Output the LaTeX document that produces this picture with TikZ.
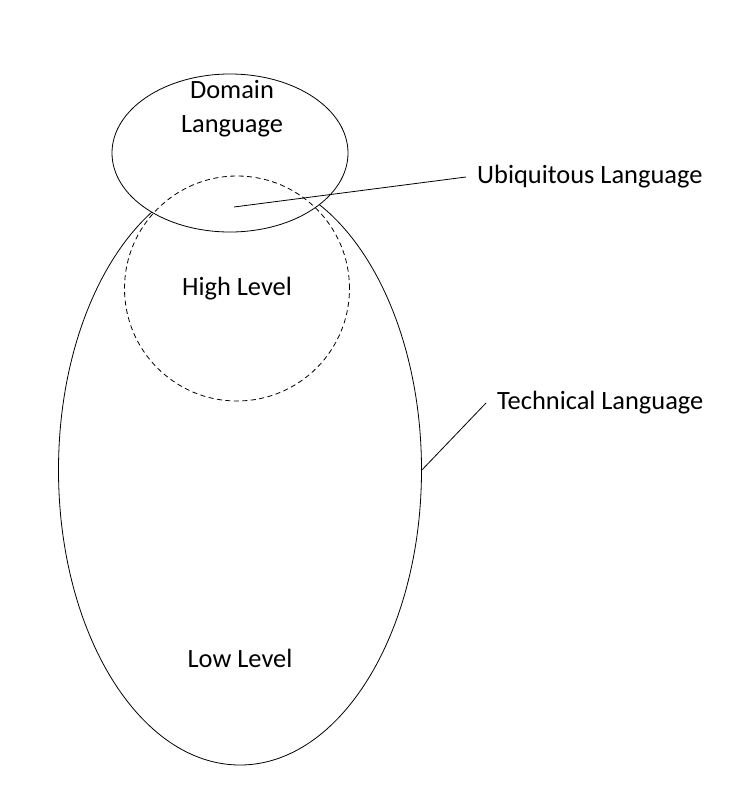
\documentclass[tikz,border=0pt]{standalone}
\usepackage{fontspec}
\setmainfont{Carlito}
\usetikzlibrary{shapes.geometric}
\begin{document}
\begin{tikzpicture}[x=1bp,y=-1bp,
  lbl/.style={font=\fontsize{26.5}{34}\selectfont, align=center, inner sep=0pt},
  side/.style={font=\fontsize{26.5}{34}\selectfont, inner ysep=0pt, inner xsep=11bp, anchor=west},
  outline/.style={draw=black, line width=0.8bp, inner sep=0pt},
  leader/.style={draw=black, line width=0.8bp}]
\fill[white] (0,0) rectangle (751,810);
\useasboundingbox (0,0) rectangle (751,810);
% shapes
\node[ellipse, outline, minimum width=363bp, minimum height=590bp] (tech) at (240,470) {};
\node[ellipse, outline, fill=white, minimum width=236bp, minimum height=158bp] (dom) at (230,153) {};
\node[circle, outline, dash pattern=on 5bp off 3.5bp, minimum size=225bp] (high) at (237,288.5) {};
% texts
\node[lbl] (domt) at (232,109) {Domain\\Language};
\node[lbl] (hight) at (237,289) {High Level};
\node[lbl] (lowt) at (240,658) {Low Level};
\node[side] (ubiq) at (466,177) {Ubiquitous Language};
\node[side] (techt) at (486,403) {Technical Language};
% leaders
\coordinate (ub) at (234,207);
\draw[leader] (ubiq.west) -- (ub);
\draw[leader] (techt.west) -- (tech.east);
\end{tikzpicture}
\end{document}
